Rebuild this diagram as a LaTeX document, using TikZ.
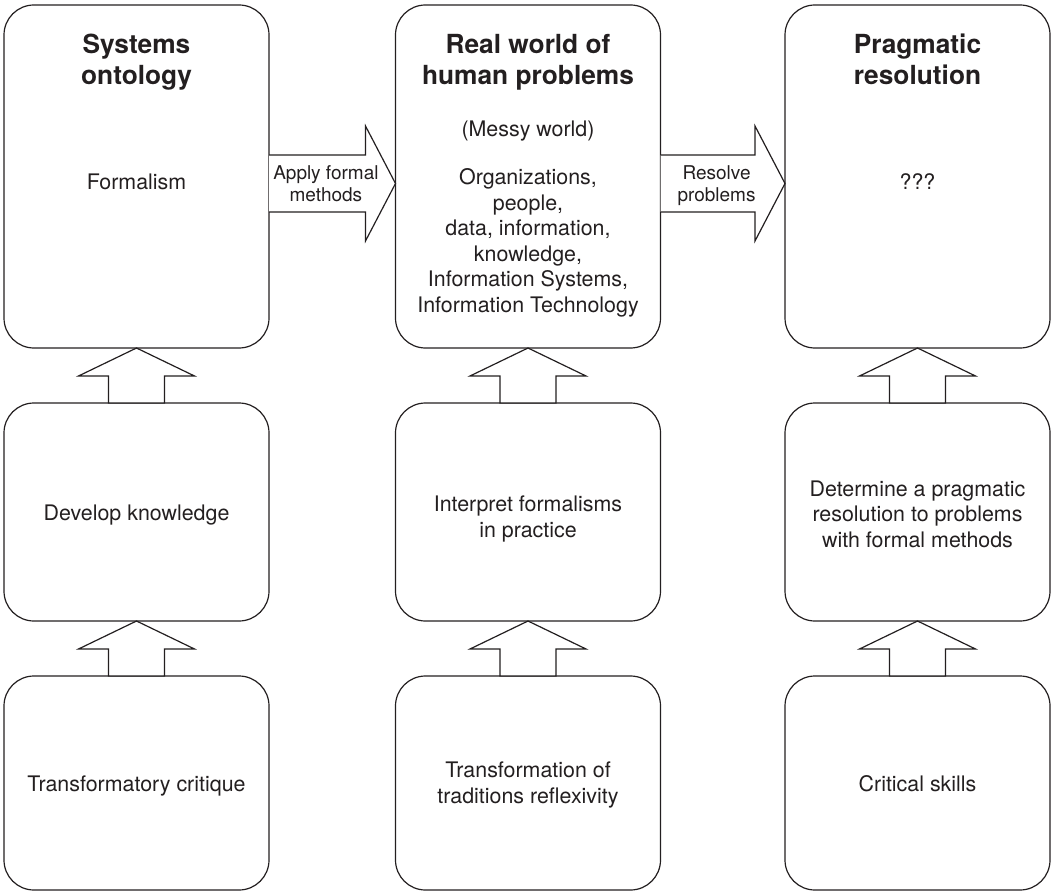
\documentclass[tikz,border=0pt]{standalone}
\usepackage{fontspec}
\setmainfont{TeX Gyre Heros}
\usetikzlibrary{calc}
\definecolor{ink}{RGB}{35,31,32}

% hollow upward block arrow from the top of box #1 to the bottom of box #2
\newcommand\upblock[2]{%
  \draw[blockarrow] (#2.south) -- ($(#2.south)+(58,28)$) -- ($(#2.south)+(28,28)$)
    -- ($(#1.north)+(28,0)$) -- ($(#1.north)+(-28,0)$)
    -- ($(#2.south)+(-28,28)$) -- ($(#2.south)+(-58,28)$) -- cycle;}

% hollow rightward block arrow between the points #1 and #2
\newcommand\rightblock[2]{%
  \draw[blockarrow] ($(#1)+(0,-28.5)$) -- ($(#2)+(-30,-28.5)$) -- ($(#2)+(-30,-57.5)$)
    -- (#2) -- ($(#2)+(-30,57.5)$) -- ($(#2)+(-30,28.5)$) -- ($(#1)+(0,28.5)$);}

\begin{document}
\begin{tikzpicture}[x=1pt,y=-1pt,
  box/.style={draw=ink, line width=1.2pt, rounded corners=30pt,
    minimum width=265pt, outer sep=0pt, inner sep=0pt},
  title/.style={font=\fontsize{26.3}{31}\selectfont\bfseries, text=ink,
    align=center, anchor=base, inner sep=0pt},
  body/.style={font=\fontsize{21.4}{25.4}\selectfont, text=ink,
    align=center, anchor=base, inner sep=0pt},
  albl/.style={font=\fontsize{19}{22.5}\selectfont, text=ink,
    align=center, anchor=base, inner sep=0pt},
  blockarrow/.style={draw=ink, line width=1.2pt, fill=white, line join=miter}]

\useasboundingbox (0,0) rectangle (1051,893);

% top row
\node[box, minimum height=343pt] (so) at (136.5,176.5) {};
\node[box, minimum height=343pt] (rw) at (528,176.5) {};
\node[box, minimum height=343pt] (pr) at (917.5,176.5) {};
% middle row
\node[box, minimum height=218pt] (dk) at (136.5,512) {};
\node[box, minimum height=218pt] (ip) at (528,512) {};
\node[box, minimum height=218pt] (dp) at (917.5,512) {};
% bottom row
\node[box, minimum height=214pt] (tc) at (136.5,783) {};
\node[box, minimum height=214pt] (tt) at (528,783) {};
\node[box, minimum height=214pt] (cs) at (917.5,783) {};

% texts of the top row (multi-line texts sit on the baseline of their last line)
\node[title] (soT) at (136.5,85) {Systems\\ontology};
\node[body] (soB) at (136.5,190) {Formalism};
\node[title] (rwT) at (528,85) {Real world of\\human problems};
\node[body] (rwM) at (528,137) {(Messy world)};
\node[body] (rwB) at (528,312) {Organizations,\\people,\\data, information,\\knowledge,\\Information Systems,\\Information Technology};
\node[title] (prT) at (917.5,85) {Pragmatic\\resolution};
\node[body] (prB) at (917.5,190) {???};

% texts of the middle row
\node[body] (dkB) at (136.5,520) {Develop knowledge};
\node[body] (ipB) at (528,537) {Interpret formalisms\\in practice};
\node[body] (dpB) at (917.5,547) {Determine a pragmatic\\resolution to problems\\with formal methods};

% texts of the bottom row
\node[body] (tcB) at (136.5,791) {Transformatory critique};
\node[body] (ttB) at (528,803) {Transformation of\\traditions reflexivity};
\node[body] (csB) at (917.5,791) {Critical skills};

% upward arrows
\upblock{dk}{so}
\upblock{ip}{rw}
\upblock{dp}{pr}
\upblock{tc}{dk}
\upblock{tt}{ip}
\upblock{cs}{dp}

% rightward arrows with their labels
\coordinate (arrowrow) at (0,183.5);
\coordinate (a1s) at (so.east |- arrowrow);
\coordinate (a1e) at (rw.west |- arrowrow);
\coordinate (a2s) at (rw.east |- arrowrow);
\coordinate (a2e) at (pr.west |- arrowrow);
\rightblock{a1s}{a1e}
\rightblock{a2s}{a2e}
\node[albl] (l1) at ($(a1s)!0.45!(a1e)+(0,18.5)$) {Apply formal\\methods};
\node[albl] (l2) at ($(a2s)!0.45!(a2e)+(0,18.5)$) {Resolve\\problems};
\end{tikzpicture}
\end{document}
